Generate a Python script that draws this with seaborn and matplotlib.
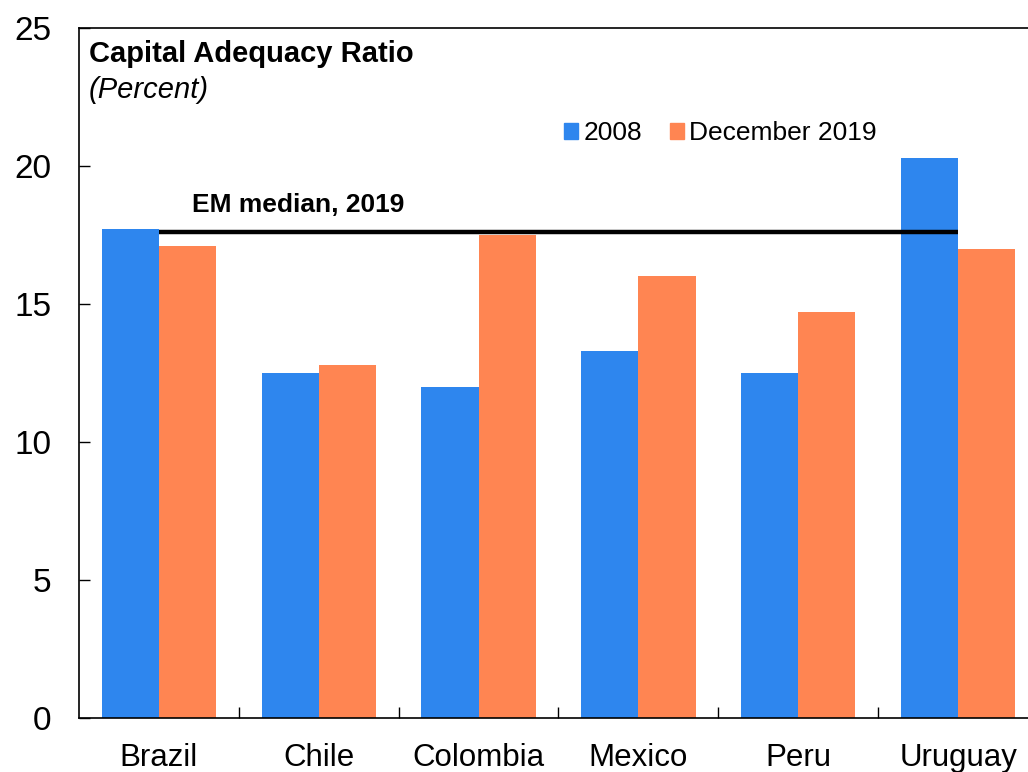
import matplotlib
matplotlib.use("Agg")
import matplotlib.pyplot as plt
import seaborn as sns
import pandas as pd

countries = ["Brazil", "Chile", "Colombia", "Mexico", "Peru", "Uruguay"]
car_2008 = [17.7, 12.5, 12.0, 13.3, 12.5, 20.3]
car_dec2019 = [17.1, 12.8, 17.5, 16.0, 14.7, 17.0]
series_names = ["2008", "December 2019"]
em_median_2019 = 17.6

colors = ["#2E86EE", "#FF8552"]

df = pd.DataFrame({
    "country": countries * 2,
    "value": car_2008 + car_dec2019,
    "period": [series_names[0]] * len(countries) + [series_names[1]] * len(countries),
})

sns.set_theme(style="white")
plt.rcParams["font.family"] = ["Liberation Sans", "DejaVu Sans"]
plt.rcParams["text.color"] = "black"
plt.rcParams["xtick.color"] = "black"
plt.rcParams["ytick.color"] = "black"

fig = plt.figure(figsize=(10.28, 7.72), dpi=100)
ax = fig.add_axes([79 / 1028, 54 / 772, 959 / 1028, 690 / 772])

sns.barplot(data=df, x="country", y="value", hue="period", palette=colors,
            width=0.715, linewidth=0, saturation=1, ax=ax, legend=False)

ax.hlines(em_median_2019, 0, len(countries) - 1, color="black", linewidth=3.2, zorder=5)
ax.text(0.21, em_median_2019 + 0.55, "EM median, 2019", fontsize=19, fontweight="bold",
        ha="left", va="bottom")

ax.set_xlim(-0.5, len(countries) - 0.5)
ax.set_ylim(0, 25)
ax.set_yticks([0, 5, 10, 15, 20, 25])
ax.set_xlabel("")
ax.set_ylabel("")

# minor ticks at the category boundaries
ax.set_xticks([i + 0.5 for i in range(len(countries) - 1)], minor=True)
ax.tick_params(axis="x", which="major", length=0, labelsize=22.5, pad=18, labelcolor="black")
ax.tick_params(axis="x", which="minor", bottom=True, direction="in", length=8, width=1, color="black")
ax.tick_params(axis="y", left=True, direction="in", length=8, width=1, color="black",
               labelsize=24, pad=20, labelcolor="black")

for s in ax.spines.values():
    s.set_color("black")
    s.set_linewidth(1.2)

ax.text(0.01, 0.982, "Capital Adequacy Ratio", transform=ax.transAxes,
        fontsize=21, fontweight="bold", ha="left", va="top")
ax.text(0.01, 0.931, "(Percent)", transform=ax.transAxes,
        fontsize=21, fontstyle="italic", ha="left", va="top")

handles = [plt.Rectangle((0, 0), 1, 1, color=c) for c in colors]
ax.legend(handles, series_names, loc="upper left", bbox_to_anchor=(0.495, 0.88),
          ncol=2, frameon=False, fontsize=19, handlelength=0.53, handleheight=0.5,
          handletextpad=0.2, columnspacing=1.05, borderaxespad=0)

fig.savefig("out.png", dpi=100)
